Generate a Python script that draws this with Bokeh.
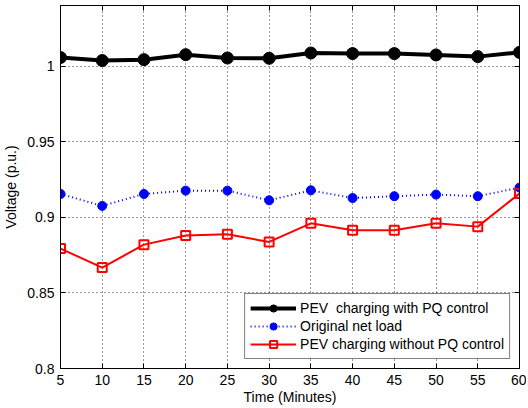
from bokeh.plotting import figure
from bokeh.models import FixedTicker, LinearAxis, Range1d, Legend, LegendItem
from bokeh.embed import file_html
from bokeh.resources import INLINE

minutes = [5, 10, 15, 20, 25, 30, 35, 40, 45, 50, 55, 60]
with_pq = [1.0056, 1.0036, 1.0042, 1.0075, 1.0053, 1.0051, 1.0086, 1.0082, 1.0082, 1.0073, 1.0062, 1.0090]
original = [0.9154, 0.9075, 0.9154, 0.9176, 0.9176, 0.9112, 0.9178, 0.9127, 0.9139, 0.9150, 0.9139, 0.9196]
without_pq = [0.8793, 0.8667, 0.8819, 0.8879, 0.8887, 0.8837, 0.8960, 0.8914, 0.8914, 0.8960, 0.8938, 0.9157]

x_ticks = [5, 10, 15, 20, 25, 30, 35, 40, 45, 50, 55, 60]
y_ticks = [0.8, 0.85, 0.9, 0.95, 1.0]
y_tick_labels = ["0.8", "0.85", "0.9", "0.95", "1"]

FONT = "Liberation Sans"

p = figure(width=521, height=408, frame_width=459, frame_height=363,
           output_backend="svg", toolbar_location=None,
           x_range=Range1d(5, 60), y_range=Range1d(0.8, 1.04),
           min_border_left=55, min_border_top=5, min_border_right=7, min_border_bottom=40)
p.background_fill_color = "white"
p.border_fill_color = "white"
p.outline_line_color = "black"
p.outline_line_width = 1

bottom_axis = p.below[0]
left_axis = p.left[0]

top_axis = LinearAxis(ticker=FixedTicker(ticks=x_ticks),
                      major_label_overrides={t: "" for t in x_ticks})
right_axis = LinearAxis(ticker=FixedTicker(ticks=y_ticks),
                        major_label_overrides={t: "" for t in y_ticks})
p.add_layout(top_axis, "above")
p.add_layout(right_axis, "right")

for ax in (bottom_axis, left_axis, top_axis, right_axis):
    ax.major_tick_in = 5
    ax.major_tick_out = 0
    ax.minor_tick_in = 0
    ax.minor_tick_out = 0
    ax.axis_line_color = "black"
    ax.major_label_text_font = FONT
    ax.major_label_text_font_size = "14px"
    ax.major_label_text_color = "black"
    ax.axis_label_text_font = FONT
    ax.axis_label_text_font_size = "14px"
    ax.axis_label_text_font_style = "normal"
    ax.axis_label_text_color = "black"

for ax in (top_axis, right_axis):
    ax.major_label_text_font_size = "0px"
    ax.major_label_standoff = 0

bottom_axis.ticker = FixedTicker(ticks=x_ticks)
left_axis.ticker = FixedTicker(ticks=y_ticks)
left_axis.major_label_overrides = {t: l for t, l in zip(y_ticks, y_tick_labels)}
bottom_axis.axis_label = "Time (Minutes)"
left_axis.axis_label = "Voltage (p.u.)"
bottom_axis.major_label_standoff = 6
bottom_axis.axis_label_standoff = 1
left_axis.major_label_standoff = 6
left_axis.axis_label_standoff = 5

p.xgrid.ticker = FixedTicker(ticks=x_ticks)
p.ygrid.ticker = FixedTicker(ticks=y_ticks)
for g in (p.xgrid, p.ygrid):
    g.grid_line_color = "#333333"
    g.grid_line_dash = "1 3"
    g.grid_line_width = 1

l1 = p.line(minutes, with_pq, line_color="black", line_width=4)
c1 = p.scatter(minutes, with_pq, marker="circle", size=12, fill_color="black", line_color="black")
l2 = p.line(minutes, original, line_color="#0000ff", line_width=2, line_dash="1 3")
c2 = p.scatter(minutes, original, marker="circle", size=9, fill_color="#0000ff", line_color="#0000ff")
l3 = p.line(minutes, without_pq, line_color="#ff0000", line_width=2)
c3 = p.scatter(minutes, without_pq, marker="square", size=9, fill_color=None, line_color="#ff0000", line_width=2)

legend = Legend(items=[
    LegendItem(label="PEV  charging with PQ control", renderers=[l1, c1]),
    LegendItem(label="Original net load", renderers=[l2, c2]),
    LegendItem(label="PEV charging without PQ control", renderers=[l3, c3]),
], location="bottom_right")
legend.margin = 9
legend.padding = 5
legend.spacing = 0
legend.glyph_width = 46
legend.glyph_height = 18
legend.label_height = 18
legend.label_standoff = 4
legend.label_text_font = FONT
legend.label_text_font_size = "14px"
legend.label_text_color = "black"
legend.border_line_color = "black"
legend.border_line_width = 1
legend.background_fill_color = "white"
legend.background_fill_alpha = 1
p.add_layout(legend, "center")

open("out.html", "w").write(file_html(p, INLINE))
